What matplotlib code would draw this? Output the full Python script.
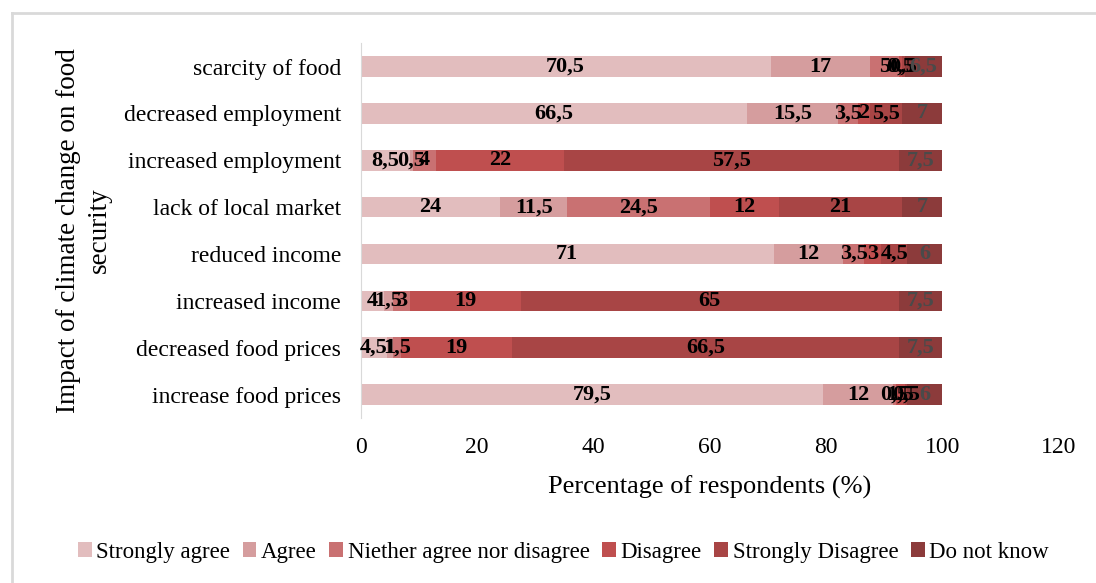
import matplotlib
matplotlib.use("Agg")
import matplotlib.pyplot as plt
import numpy as np
from matplotlib.lines import Line2D

# categories listed bottom -> top
categories = [
    "increase food prices",
    "decreased food prices",
    "increased income",
    "reduced income",
    "lack of local market",
    "increased employment",
    "decreased employment",
    "scarcity of food",
]
series_names = [
    "Strongly agree",
    "Agree",
    "Niether agree nor disagree",
    "Disagree",
    "Strongly Disagree",
    "Do not know",
]
strongly_agree = [79.5, 4.5, 4, 71, 24, 8.5, 66.5, 70.5]
agree = [12, 1, 1.5, 12, 11.5, 0.5, 15.5, 17]
neither = [0.5, 1.5, 3, 3.5, 24.5, 4, 3.5, 5]
disagree = [1.5, 19, 19, 3, 12, 22, 2, 0.5]
strongly_disagree = [0.5, 66.5, 65, 4.5, 21, 57.5, 5.5, 0.5]
do_not_know = [6, 7.5, 7.5, 6, 7, 7.5, 7, 6.5]
x_ticks = [0, 20, 40, 60, 80, 100, 120]

colors = ["#e2bdbe", "#d59d9e", "#c97172", "#bf4f4f", "#a84545", "#8c3b3b"]
label_colors = ["black", "black", "black", "black", "black", "#4a4a4a"]

plt.rcParams["font.family"] = ["Liberation Serif", "DejaVu Serif"]

fig = plt.figure(figsize=(10.96, 5.83), dpi=100)
ax = fig.add_axes([0.329, 0.283, 0.637, 0.643])

series = [strongly_agree, agree, neither, disagree, strongly_disagree, do_not_know]
y = np.arange(len(categories))
left = np.zeros(len(categories))
for name, vals, col, lc in zip(series_names, series, colors, label_colors):
    vals = np.array(vals, dtype=float)
    bars = ax.barh(y, vals, left=left, height=0.44, color=col, label=name)
    labels = [str(v).replace(".0", "").replace(".", ",") for v in vals]
    ax.bar_label(bars, labels=labels, label_type="center", fontsize=16,
                 fontweight="bold", color=lc)
    left += vals

ax.set_xlim(0, 120)
ax.set_ylim(-0.5, len(categories) - 0.5)
ax.set_xticks(x_ticks)
ax.set_yticks(y)
ax.set_yticklabels(categories)
ax.tick_params(axis="both", length=0)
ax.tick_params(axis="x", pad=14, labelsize=17)
ax.tick_params(axis="y", pad=14, labelsize=17)
for s in ["top", "right", "bottom"]:
    ax.spines[s].set_visible(False)
ax.spines["left"].set_color("#d9d9d9")

ax.set_xlabel("Percentage of respondents (%)", fontsize=19, labelpad=12)
ax.set_ylabel("Impact of climate change on food\nsecurity", fontsize=19.5,
              labelpad=9, linespacing=1.3)

ax.legend(loc="center", bbox_to_anchor=(0.514, 0.053),
          bbox_transform=fig.transFigure, ncol=6, frameon=False,
          fontsize=16.5, handlelength=0.6, handleheight=0.6, handletextpad=0.2,
          columnspacing=0.55)

# light frame around the chart (cut off at right and bottom)
fig.add_artist(Line2D([12 / 1096, 12 / 1096], [0, 1 - 13 / 583],
                      transform=fig.transFigure, color="#d9d9d9", lw=2))
fig.add_artist(Line2D([12 / 1096, 1], [1 - 13 / 583, 1 - 13 / 583],
                      transform=fig.transFigure, color="#d9d9d9", lw=2))

fig.savefig("out.png", dpi=100)
